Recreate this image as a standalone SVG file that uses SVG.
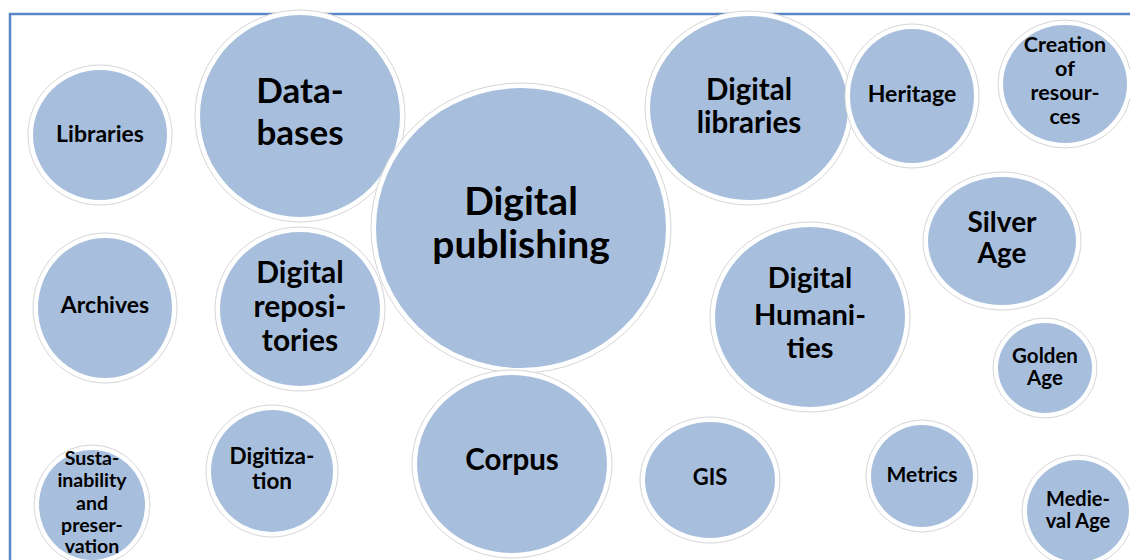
<svg xmlns="http://www.w3.org/2000/svg" width="1130" height="560" viewBox="0 0 1130 560">
<style>
.edge{fill:#ffffff;stroke:#d6d6d6;stroke-width:1}
.fill{fill:#a7bfdd}
text{font-family:Lato,"Open Sans",sans-serif;font-weight:bold;fill:#000000;text-anchor:middle}
</style>
<rect x="0" y="0" width="1130" height="560" fill="#ffffff"/>
<path d="M10,560 V14 H1130" fill="none" stroke="#5a86c3" stroke-width="2.5"/>
<g id="connectors"></g>

<g id="libraries">
<ellipse class="edge" cx="100" cy="135" rx="72" ry="70"/>
<ellipse class="fill" cx="100" cy="135" rx="67" ry="65"/>
<text x="100" y="142" font-size="23">Libraries</text>
</g>

<g id="databases">
<ellipse class="edge" cx="300" cy="116" rx="105" ry="106"/>
<ellipse class="fill" cx="300" cy="116" rx="100" ry="101"/>
<text x="300" y="103" font-size="35">Data-</text>
<text x="300" y="145" font-size="35">bases</text>
</g>

<g id="digital-libraries">
<ellipse class="edge" cx="749" cy="108" rx="104" ry="97"/>
<ellipse class="fill" cx="749" cy="108" rx="99" ry="92"/>
<text x="749" y="100" font-size="29.5">Digital</text>
<text x="749" y="133" font-size="29.5">libraries</text>
</g>

<g id="heritage">
<ellipse class="edge" cx="912" cy="96" rx="67" ry="72"/>
<ellipse class="fill" cx="912" cy="96" rx="62" ry="67"/>
<text x="912" y="102" font-size="23">Heritage</text>
</g>

<g id="creation-of-resources">
<ellipse class="edge" cx="1065" cy="84" rx="67" ry="64"/>
<ellipse class="fill" cx="1065" cy="84" rx="62" ry="59"/>
<text x="1065" y="52" font-size="21.5">Creation</text>
<text x="1065" y="76" font-size="21.5">of</text>
<text x="1065" y="100" font-size="21.5">resour-</text>
<text x="1065" y="124" font-size="21.5">ces</text>
</g>

<g id="silver-age">
<ellipse class="edge" cx="1002" cy="241" rx="79" ry="69"/>
<ellipse class="fill" cx="1002" cy="241" rx="74" ry="64"/>
<text x="1002" y="232" font-size="28">Silver</text>
<text x="1002" y="263" font-size="28">Age</text>
</g>

<g id="archives">
<ellipse class="edge" cx="105" cy="308" rx="72" ry="75"/>
<ellipse class="fill" cx="105" cy="308" rx="67" ry="70"/>
<text x="105" y="313" font-size="23">Archives</text>
</g>

<g id="digital-repositories">
<ellipse class="edge" cx="300" cy="309" rx="85" ry="82"/>
<ellipse class="fill" cx="300" cy="309" rx="80" ry="77"/>
<text x="300" y="283" font-size="30">Digital</text>
<text x="300" y="317" font-size="30">reposi-</text>
<text x="300" y="351" font-size="30">tories</text>
</g>

<g id="digital-publishing">
<ellipse class="edge" cx="521" cy="228" rx="150" ry="145"/>
<ellipse class="fill" cx="521" cy="228" rx="145" ry="140"/>
<text x="521" y="215" font-size="39">Digital</text>
<text x="521" y="258" font-size="39">publishing</text>
</g>

<g id="digital-humanities">
<ellipse class="edge" cx="810" cy="317" rx="100" ry="95"/>
<ellipse class="fill" cx="810" cy="317" rx="95" ry="90"/>
<text x="810" y="288" font-size="29">Digital</text>
<text x="810" y="325" font-size="29">Humani-</text>
<text x="810" y="358" font-size="29">ties</text>
</g>

<g id="golden-age">
<ellipse class="edge" cx="1045" cy="368" rx="52" ry="50"/>
<ellipse class="fill" cx="1045" cy="368" rx="47" ry="45"/>
<text x="1045" y="363" font-size="20.5">Golden</text>
<text x="1045" y="385" font-size="20.5">Age</text>
</g>

<g id="sustainability-and-preservation">
<ellipse class="edge" cx="92" cy="505" rx="58" ry="60"/>
<ellipse class="fill" cx="92" cy="505" rx="53" ry="55"/>
<text x="92" y="465" font-size="19.5">Susta-</text>
<text x="92" y="487" font-size="19.5">inability</text>
<text x="92" y="510" font-size="19.5">and</text>
<text x="92" y="532" font-size="19.5">preser-</text>
<text x="92" y="553" font-size="19.5">vation</text>
</g>

<g id="digitization">
<ellipse class="edge" cx="272" cy="471" rx="66" ry="66"/>
<ellipse class="fill" cx="272" cy="471" rx="61" ry="61"/>
<text x="272" y="464" font-size="22.5">Digitiza-</text>
<text x="272" y="489" font-size="22.5">tion</text>
</g>

<g id="corpus">
<ellipse class="edge" cx="512" cy="464" rx="100" ry="94"/>
<ellipse class="fill" cx="512" cy="464" rx="95" ry="89"/>
<text x="512" y="470" font-size="29.5">Corpus</text>
</g>

<g id="gis">
<ellipse class="edge" cx="710" cy="480" rx="70" ry="63"/>
<ellipse class="fill" cx="710" cy="480" rx="65" ry="58"/>
<text x="710" y="485" font-size="22">GIS</text>
</g>

<g id="metrics">
<ellipse class="edge" cx="922" cy="476" rx="56" ry="56"/>
<ellipse class="fill" cx="922" cy="476" rx="51" ry="51"/>
<text x="922" y="482" font-size="21">Metrics</text>
</g>

<g id="medieval-age">
<ellipse class="edge" cx="1078" cy="511" rx="56" ry="56"/>
<ellipse class="fill" cx="1078" cy="511" rx="51" ry="51"/>
<text x="1078" y="506" font-size="20">Medie-</text>
<text x="1078" y="528" font-size="20">val Age</text>
</g>
</svg>
